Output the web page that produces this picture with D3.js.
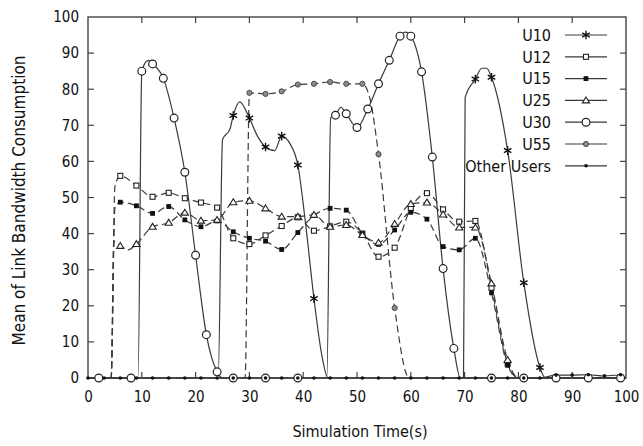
<!DOCTYPE html>
<html>
<head>
<meta charset="utf-8">
<script src="https://cdn.jsdelivr.net/npm/d3@7"></script>
<style>
  html, body { margin: 0; padding: 0; background: #fff; }
  svg text { font-family: "DejaVu Sans Condensed", "DejaVu Sans", sans-serif; font-stretch: condensed; fill: #111; }
</style>
</head>
<body>
<svg id="chart" width="643" height="446"></svg>
<script>
// ---- data (time s, value, marker flag) ----
const xTicks = [0, 10, 20, 30, 40, 50, 60, 70, 80, 90, 100];
const yTicks = [0, 10, 20, 30, 40, 50, 60, 70, 80, 90, 100];
const seriesNames = ["U10", "U12", "U15", "U25", "U30", "U55", "Other Users"];

const u10 = [[0,0],[24.2,0],[25,66],[26.4,69],[27,72.7,1],[28.2,76.5],[30,72,1],[31.5,67],[33,64,1],[34.7,63],[36,67,1],[37.5,65],[39,59,1],[40.5,42],[42,22,1],[43.5,6],[44.6,0],[69.8,0],[70.1,77.7],[72,82.8,1],[73.2,85.8],[74.1,85.8],[75,83.3,1],[78,63,1],[81,26.4,1],[84,2.9,1],[85,0],[100,0]];
const u12 = [[0,0],[4.3,0],[5,53],[6,56,1],[9,53.3,1],[12,50.2,1],[15,51.3,1],[18,49.8,1],[21,48.6,1],[24,47.2,1],[27,38.7,1],[30,37.1,1],[33,39.5,1],[36,42.1,1],[39,44.5,1],[42,40.8,1],[45,42,1],[48,43.3,1],[51,40,1],[54,33.6,1],[57,36.1,1],[60,47,1],[63,51.2,1],[66,46.7,1],[69,43.3,1],[72,43.5,1],[75,25,1],[78,4,1],[80,0],[100,0]];
const u15 = [[0,0],[4.3,0],[5,47],[6,48.7,1],[9,47.7,1],[12,45.6,1],[15,47.5,1],[18,43.8,1],[21,41.9,1],[24,43.5,1],[27,40.5,1],[30,38.7,1],[33,37.9,1],[36,35.6,1],[39,40.3,1],[42,45,1],[45,47,1],[48,46.5,1],[51,40,1],[54,37,1],[57,41,1],[60,45.9,1],[63,44,1],[66,36.4,1],[69,35.5,1],[72,38.7,1],[75,23.6,1],[78,3.5,1],[80,0],[100,0]];
const u25 = [[0,0],[4.3,0],[4.8,37.8],[6,36.6,1],[7.5,35.5],[9,37.1,1],[12,41.9,1],[15,43,1],[18,45.8,1],[21,43.6,1],[24,43.8,1],[27,48.7,1],[30,49.1,1],[33,47,1],[36,44.7,1],[39,44.7,1],[42,45.2,1],[45,41.9,1],[48,42.4,1],[51,39.6,1],[54,37.5,1],[57,42.7,1],[60,48.2,1],[63,48.6,1],[66,45.3,1],[69,41.7,1],[72,41.7,1],[75,26.2,1],[78,5,1],[80,0],[100,0]];
const u30 = [[0,0],[2,0,1],[8,0,1],[9.3,0],[10,85,1],[11.2,88],[12,87,1],[14,83,1],[16,72,1],[18,57,1],[20,34,1],[22,12,1],[24,1.7,1],[25,0],[27,0,1],[33,0,1],[39,0,1],[44.4,0],[45.1,72],[46,72.8,1],[47,75],[48,73.2,1],[50,69.4,1],[52,74.5,1],[54,81.5,1],[56,88,1],[58,94.7,1],[59,95.8],[60,94.7,1],[62,84.8,1],[64,61.2,1],[66,30.3,1],[68,8.2,1],[69.2,0],[75,0,1],[81,0,1],[87,0,1],[93,0,1],[99,0,1],[100,0]];
const u55 = [[0,0],[29.2,0],[30,79,1],[33,78.7,1],[36,79.4,1],[39,81.3,1],[42,81.5,1],[45,82,1],[48,81.5,1],[51,81.5,1],[52.3,78],[54,62,1],[57,19.4,1],[59.7,0],[100,0]];
const otherTimes  = [0,3,6,9,12,15,18,21,24,27,30,33,36,39,42,45,48,51,54,57,60,63,66,69,72,75,78,81,84,87,90,93,96,99];
const otherValues = [0,0,0,0,0,0,0,0,0,0,0,0,0,0,0,0,0,0,0,0,0,0,0,0,0,0,0,0,0,0.8,0.8,0.9,0.6,0.9];

// ---- layout ----
const svg = d3.select("#chart");
const L = 88, R = 626, T = 17, B = 378;
const x = d3.scaleLinear().domain([0, 100]).range([L, R]);
const y = d3.scaleLinear().domain([0, 100]).range([B, T]);
const lineCol = "#3a3a3a";

const others = otherTimes.map((t, i) => [t, otherValues[i], 1]);

const series = [
  { name: seriesNames[0], data: u10, dash: null, mk: "star" },
  { name: seriesNames[1], data: u12, dash: "7,4", mk: "osq" },
  { name: seriesNames[2], data: u15, dash: "7,4", mk: "fsq" },
  { name: seriesNames[3], data: u25, dash: "7,4", mk: "tri" },
  { name: seriesNames[4], data: u30, dash: null, mk: "ocirc" },
  { name: seriesNames[5], data: u55, dash: "7,4", mk: "gcirc" },
  { name: seriesNames[6], data: others, dash: null, mk: "dot" }
];

function drawMarker(g, kind, cx, cy) {
  if (kind === "star") {
    g.append("path").attr("transform", `translate(${cx},${cy})`)
      .attr("d", d3.symbol().type(d3.symbolAsterisk).size(52)())
      .attr("fill", "none").attr("stroke", "#111").attr("stroke-width", 1.4);
  } else if (kind === "osq") {
    g.append("rect").attr("x", cx - 2.5).attr("y", cy - 2.5).attr("width", 5).attr("height", 5)
      .attr("fill", "#fff").attr("stroke", "#222").attr("stroke-width", 1.1);
  } else if (kind === "fsq") {
    g.append("rect").attr("x", cx - 2.4).attr("y", cy - 2.4).attr("width", 4.8).attr("height", 4.8)
      .attr("fill", "#111");
  } else if (kind === "tri") {
    g.append("path").attr("transform", `translate(${cx},${cy})`)
      .attr("d", "M0,-3.4L3.6,2.5L-3.6,2.5Z")
      .attr("fill", "#fff").attr("stroke", "#222").attr("stroke-width", 1.1);
  } else if (kind === "ocirc") {
    g.append("circle").attr("cx", cx).attr("cy", cy).attr("r", 3.9)
      .attr("fill", "#fff").attr("stroke", "#222").attr("stroke-width", 1.2);
  } else if (kind === "gcirc") {
    g.append("circle").attr("cx", cx).attr("cy", cy).attr("r", 2.6)
      .attr("fill", "#8a8a8a").attr("stroke", "#444").attr("stroke-width", 0.9);
  } else if (kind === "dot") {
    g.append("circle").attr("cx", cx).attr("cy", cy).attr("r", 1.8).attr("fill", "#111");
  }
}

// frame and ticks
const frame = svg.append("g");
frame.append("rect").attr("x", L).attr("y", T).attr("width", R - L).attr("height", B - T)
  .attr("fill", "none").attr("stroke", "#444").attr("stroke-width", 1.4);

const axB = d3.axisBottom(x).tickValues(xTicks).tickSize(0).tickPadding(0).tickFormat(d3.format("d"));
const gx = svg.append("g").attr("transform", `translate(0,${B})`).call(axB);
gx.select(".domain").remove();
gx.selectAll("text").attr("dy", "1.6em").attr("font-size", 15).style("font-family", null);

const axL = d3.axisLeft(y).tickValues(yTicks).tickSize(0).tickPadding(9).tickFormat(d3.format("d"));
const gy = svg.append("g").attr("transform", `translate(${L},0)`).call(axL);
gy.select(".domain").remove();
gy.selectAll("text").attr("font-size", 15).style("font-family", null);

xTicks.forEach(t => {
  if (t > 0 && t < 100) {
    frame.append("line").attr("x1", x(t)).attr("x2", x(t)).attr("y1", B).attr("y2", B - 6).attr("stroke", "#444").attr("stroke-width", 1.2);
    frame.append("line").attr("x1", x(t)).attr("x2", x(t)).attr("y1", T).attr("y2", T + 6).attr("stroke", "#444").attr("stroke-width", 1.2);
  }
});
yTicks.forEach(v => {
  if (v > 0 && v < 100) {
    frame.append("line").attr("x1", L).attr("x2", L + 6).attr("y1", y(v)).attr("y2", y(v)).attr("stroke", "#444").attr("stroke-width", 1.2);
    frame.append("line").attr("x1", R).attr("x2", R - 6).attr("y1", y(v)).attr("y2", y(v)).attr("stroke", "#444").attr("stroke-width", 1.2);
  }
});

// lines
const line = d3.line().x(d => x(d[0])).y(d => y(d[1])).curve(d3.curveMonotoneX);
const linesG = svg.append("g");
series.forEach(s => {
  linesG.append("path").attr("d", line(s.data)).attr("fill", "none")
    .attr("stroke", lineCol).attr("stroke-width", 1.2)
    .attr("stroke-dasharray", s.dash);
});
// markers
const mkG = svg.append("g");
series.forEach(s => {
  s.data.filter(d => d[2]).forEach(d => drawMarker(mkG, s.mk, x(d[0]), y(d[1])));
});

// axis titles
svg.append("text").attr("x", (L + R) / 2 + 3).attr("y", 437).attr("text-anchor", "middle")
  .attr("font-size", 16).text("Simulation Time(s)");
svg.append("text").attr("transform", `translate(25,${(T + B) / 2 + 3}) rotate(-90)`)
  .attr("text-anchor", "middle").attr("font-size", 17).text("Mean of Link Bandwidth Consumption");

// legend
const lg = svg.append("g");
series.forEach((s, i) => {
  const cy = 35 + i * 21.8;
  lg.append("text").attr("x", 551).attr("y", cy).attr("dy", "0.36em").attr("text-anchor", "end")
    .attr("font-size", 16).text(s.name);
  lg.append("line").attr("x1", 565).attr("x2", 607).attr("y1", cy).attr("y2", cy)
    .attr("stroke", lineCol).attr("stroke-width", 1.2);
  drawMarker(lg, s.mk, 586, cy);
});
</script>
</body>
</html>
